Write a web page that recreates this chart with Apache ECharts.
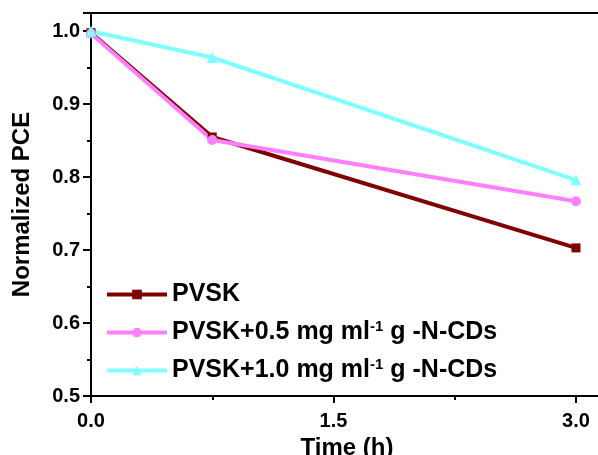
<!DOCTYPE html>
<html>
<head>
<meta charset="utf-8">
<script src="https://cdn.jsdelivr.net/npm/echarts@6/dist/echarts.min.js"></script>
<style>
  html, body { margin: 0; padding: 0; background: #fff; }
  #chart { width: 598px; height: 455px; }
</style>
</head>
<body>
<div id="chart"></div>
<script>
// Aging time (h) and normalized PCE of each film
const timeHours = [0, 0.75, 3];
const pvsk = [0.998, 0.855, 0.703];
const pvsk05 = [0.997, 0.851, 0.767];
const pvsk10 = [1.0, 0.964, 0.796];
const seriesNames = [
  'PVSK',
  'PVSK+0.5 mg ml{sup|-1} g -N-CDs',
  'PVSK+1.0 mg ml{sup|-1} g -N-CDs'
];
const yTicks = [0.5, 0.6, 0.7, 0.8, 0.9, 1.0];
const xTicks = [0, 1.5, 3.0];

const FONT = 'Arial, "Liberation Sans", sans-serif';
const chart = echarts.init(document.getElementById('chart'), null, { renderer: 'canvas' });

function pairs(vals) {
  return timeHours.map((t, i) => [t, vals[i]]);
}

const onTick = (list, v) => list.some(t => Math.abs(t - v) < 1e-9);

chart.setOption({
  animation: false,
  backgroundColor: '#fff',
  grid: {
    left: 91, top: 13, width: 512, height: 383,
    containLabel: false, outerBoundsMode: 'none',
    show: true, borderColor: '#000', borderWidth: 2, backgroundColor: 'transparent'
  },
  xAxis: {
    type: 'value', min: 0, max: 3.167, interval: 1.5,
    name: 'Time (h)', nameLocation: 'middle', nameGap: 37,
    nameTextStyle: { fontFamily: FONT, fontWeight: 'bold', fontSize: 24, color: '#000' },
    axisLine: { show: true, lineStyle: { color: '#000', width: 2 } },
    axisTick: { show: true, inside: false, length: 7, lineStyle: { color: '#000', width: 2 } },
    minorTick: { show: true, splitNumber: 2, length: 4, lineStyle: { color: '#000', width: 2 } },
    splitLine: { show: false },
    axisLabel: {
      margin: 15, fontFamily: FONT, fontWeight: 'bold', fontSize: 20, color: '#000',
      showMaxLabel: false,
      formatter: v => onTick(xTicks, v) ? v.toFixed(1) : ''
    }
  },
  yAxis: {
    type: 'value', min: 0.5, max: 1.025, interval: 0.1,
    name: 'Normalized PCE', nameLocation: 'middle', nameGap: 57,
    nameTextStyle: { fontFamily: FONT, fontWeight: 'bold', fontSize: 24, color: '#000' },
    axisLine: { show: true, lineStyle: { color: '#000', width: 2 } },
    axisTick: { show: true, inside: false, length: 8, lineStyle: { color: '#000', width: 2 } },
    minorTick: { show: true, splitNumber: 2, length: 4, lineStyle: { color: '#000', width: 2 } },
    splitLine: { show: false },
    axisLabel: {
      margin: 11, fontFamily: FONT, fontWeight: 'bold', fontSize: 20, color: '#000',
      showMaxLabel: false,
      formatter: v => onTick(yTicks, v) ? v.toFixed(1) : ''
    }
  },
  legend: {
    orient: 'vertical', left: 105, top: 282, padding: 0,
    itemWidth: 60, itemHeight: 12, itemGap: 12,
    lineStyle: { width: 4 },
    textStyle: {
      fontFamily: FONT, fontWeight: 'bold', fontSize: 25, color: '#000',
      rich: {
        sup: { fontFamily: FONT, fontWeight: 'bold', fontSize: 15, color: '#000', verticalAlign: 'top', padding: [0, 0, 12, 0] }
      }
    },
    data: seriesNames
  },
  series: [
    {
      name: seriesNames[0], type: 'line', data: pairs(pvsk),
      symbol: 'rect', symbolSize: 9, color: '#800000',
      lineStyle: { width: 4, color: '#800000' }, itemStyle: { color: '#800000' }
    },
    {
      name: seriesNames[1], type: 'line', data: pairs(pvsk05),
      symbol: 'circle', symbolSize: 10, color: '#ff80ff',
      lineStyle: { width: 4, color: '#ff80ff' }, itemStyle: { color: '#ff80ff' }
    },
    {
      name: seriesNames[2], type: 'line', data: pairs(pvsk10),
      symbol: 'triangle', symbolSize: 11, color: '#80ffff',
      lineStyle: { width: 4, color: '#80ffff' }, itemStyle: { color: '#80ffff' }
    }
  ]
});
</script>
</body>
</html>
